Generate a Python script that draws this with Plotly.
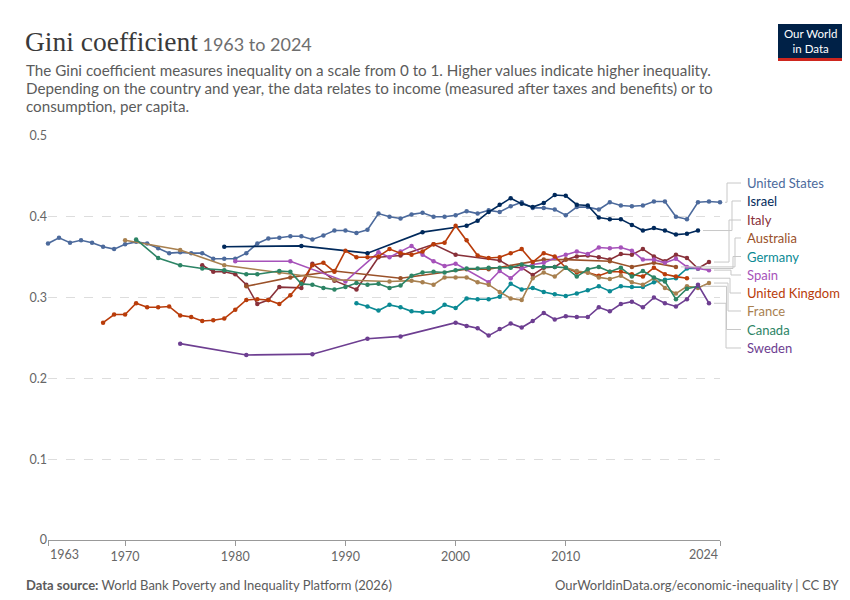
import plotly.graph_objects as go

# Gini values (World Bank PIP via OWID)
us_years = list(range(1963, 2025))
us_gini = [0.367, 0.374, 0.368, 0.371, 0.368, 0.363, 0.360, 0.366, 0.369, 0.367,
           0.361, 0.355, 0.356, 0.355, 0.355, 0.348, 0.348, 0.348, 0.355, 0.367,
           0.373, 0.374, 0.376, 0.376, 0.372, 0.377, 0.383, 0.383, 0.380, 0.384,
           0.404, 0.400, 0.398, 0.403, 0.405, 0.400, 0.400, 0.402, 0.407, 0.404,
           0.408, 0.406, 0.413, 0.418, 0.411, 0.411, 0.409, 0.402, 0.412, 0.412,
           0.409, 0.418, 0.414, 0.413, 0.414, 0.419, 0.419, 0.400, 0.397, 0.418,
           0.419, 0.418]

israel_years = [1979, 1986, 1992, 1997, 2001, 2002, 2003, 2004, 2005, 2006, 2007,
                2008, 2009, 2010, 2011, 2012, 2013, 2014, 2015, 2016, 2017, 2018,
                2019, 2020, 2021, 2022]
israel_gini = [0.363, 0.364, 0.355, 0.381, 0.389, 0.395, 0.406, 0.415, 0.423, 0.416,
               0.412, 0.417, 0.427, 0.426, 0.415, 0.414, 0.399, 0.397, 0.397, 0.390,
               0.383, 0.386, 0.383, 0.378, 0.379, 0.383]

italy_years = [1977, 1978, 1979, 1980, 1981, 1982, 1983, 1984, 1986, 1987, 1989,
               1991, 1993, 1995, 1998, 2000, 2004, 2005, 2006, 2007, 2008, 2009,
               2010, 2011, 2012, 2013, 2014, 2015, 2016, 2017, 2018, 2019, 2020,
               2021, 2022, 2023]
italy_gini = [0.340, 0.332, 0.332, 0.329, 0.316, 0.292, 0.297, 0.313, 0.312, 0.342,
              0.321, 0.310, 0.350, 0.352, 0.366, 0.353, 0.346, 0.338, 0.337, 0.328,
              0.337, 0.338, 0.347, 0.351, 0.352, 0.350, 0.347, 0.354, 0.353, 0.360,
              0.351, 0.345, 0.353, 0.349, 0.336, 0.344]

australia_years = [1981, 1985, 1989, 1995, 2001, 2003, 2008, 2010, 2014, 2016, 2018, 2020]
australia_gini = [0.314, 0.325, 0.333, 0.324, 0.335, 0.335, 0.347, 0.347, 0.345,
                  0.338, 0.343, 0.338]

germany_years = list(range(1991, 2023))
germany_gini = [0.293, 0.289, 0.284, 0.291, 0.288, 0.283, 0.282, 0.282, 0.291, 0.287,
                0.299, 0.298, 0.298, 0.301, 0.317, 0.310, 0.312, 0.307, 0.304, 0.302,
                0.305, 0.309, 0.314, 0.308, 0.314, 0.313, 0.313, 0.319, 0.322, 0.324,
                0.336, 0.336]

spain_years = [1980, 1985, 1990, 1993, 1994, 1995, 1996, 1997, 1998, 1999, 2000,
               2003, 2004, 2005, 2006, 2007, 2008, 2009, 2010, 2011, 2012, 2013,
               2014, 2015, 2016, 2017, 2018, 2019, 2020, 2021, 2022, 2023]
spain_gini = [0.345, 0.345, 0.320, 0.356, 0.350, 0.357, 0.364, 0.353, 0.345, 0.339,
              0.342, 0.319, 0.333, 0.324, 0.336, 0.341, 0.343, 0.349, 0.353, 0.357,
              0.354, 0.362, 0.361, 0.362, 0.358, 0.347, 0.347, 0.343, 0.348, 0.338,
              0.336, 0.334]

uk_years = list(range(1968, 2022))
uk_gini = [0.269, 0.279, 0.279, 0.293, 0.288, 0.288, 0.289, 0.278, 0.276, 0.271,
           0.272, 0.274, 0.285, 0.297, 0.298, 0.297, 0.292, 0.303, 0.319, 0.340,
           0.343, 0.332, 0.358, 0.350, 0.350, 0.351, 0.360, 0.355, 0.353, 0.357,
           0.366, 0.368, 0.389, 0.371, 0.352, 0.349, 0.350, 0.355, 0.360, 0.344,
           0.355, 0.351, 0.337, 0.331, 0.331, 0.327, 0.332, 0.332, 0.329, 0.326,
           0.337, 0.329, 0.326, 0.324]

france_years = [1970, 1975, 1979, 1984, 1989, 1994, 1996, 1997, 1998, 1999, 2000,
                2001, 2002, 2003, 2004, 2005, 2006, 2007, 2008, 2009, 2010, 2011,
                2012, 2013, 2014, 2015, 2016, 2017, 2018, 2019, 2020, 2021, 2022, 2023]
france_gini = [0.371, 0.359, 0.340, 0.331, 0.322, 0.320, 0.321, 0.319, 0.316, 0.325,
               0.325, 0.325, 0.319, 0.316, 0.307, 0.299, 0.297, 0.324, 0.331, 0.326,
               0.337, 0.333, 0.331, 0.325, 0.323, 0.327, 0.319, 0.316, 0.324, 0.312,
               0.305, 0.314, 0.312, 0.318]

canada_years = [1971, 1973, 1975, 1977, 1979, 1981, 1982, 1984, 1985, 1986, 1987,
                1988, 1989, 1990, 1991, 1992, 1993, 1994, 1995, 1996, 1997, 1998,
                1999, 2000, 2001, 2002, 2003, 2004, 2005, 2006, 2007, 2008, 2009,
                2010, 2011, 2012, 2013, 2014, 2015, 2016, 2017, 2018, 2019, 2020,
                2021, 2022]
canada_gini = [0.372, 0.349, 0.340, 0.336, 0.334, 0.329, 0.329, 0.333, 0.332, 0.317,
               0.316, 0.312, 0.310, 0.313, 0.318, 0.316, 0.317, 0.312, 0.315, 0.327,
               0.331, 0.332, 0.331, 0.334, 0.336, 0.336, 0.337, 0.337, 0.337, 0.341,
               0.338, 0.338, 0.338, 0.337, 0.326, 0.335, 0.338, 0.332, 0.337, 0.326,
               0.333, 0.325, 0.320, 0.298, 0.311, 0.314]

sweden_years = [1975, 1981, 1987, 1992, 1995, 2000, 2001, 2002, 2003, 2004, 2005,
                2006, 2007, 2008, 2009, 2010, 2011, 2012, 2013, 2014, 2015, 2016,
                2017, 2018, 2019, 2020, 2021, 2022, 2023]
sweden_gini = [0.243, 0.229, 0.230, 0.249, 0.252, 0.269, 0.265, 0.262, 0.253, 0.261,
               0.268, 0.263, 0.271, 0.281, 0.273, 0.277, 0.276, 0.276, 0.288, 0.283,
               0.292, 0.295, 0.288, 0.300, 0.293, 0.289, 0.298, 0.316, 0.293]

# legend order top to bottom, with label y position (canvas px)
series = [
    ("United States", us_years, us_gini, "#4C6A9C", 175),
    ("Israel", israel_years, israel_gini, "#00295B", 193),
    ("Italy", italy_years, italy_gini, "#883039", 212),
    ("Australia", australia_years, australia_gini, "#9A5129", 230),
    ("Germany", germany_years, germany_gini, "#0B8A94", 248.5),
    ("Spain", spain_years, spain_gini, "#A652BA", 267),
    ("United Kingdom", uk_years, uk_gini, "#B93C0A", 285),
    ("France", france_years, france_gini, "#A8804F", 303),
    ("Canada", canada_years, canada_gini, "#2C8465", 321.5),
    ("Sweden", sweden_years, sweden_gini, "#6D3E91", 340),
]

x_ticks = [1963, 1970, 1980, 1990, 2000, 2010, 2024]

W, H = 850, 600
L, R, T, B = 40, 138, 128, 68
PW, PH = W - L - R, H - T - B


def px(x):
    return (x - L) / PW


def py(y):
    return (H - B - y) / PH


fig = go.Figure()
for name, yrs, vals, col, _ in series:
    fig.add_trace(go.Scatter(x=yrs, y=vals, mode="lines+markers", name=name,
                             line=dict(color=col, width=1.6),
                             marker=dict(color=col, size=4.5),
                             cliponaxis=False, showlegend=False))

shapes = []
annotations = []
vx = [719, 724, 721, 727, 725, 723, 722, 720, 718.5, 718]
for i, (name, yrs, vals, col, ly) in enumerate(series):
    end_x = 40 + (yrs[-1] - 1963) * PW / (2024 - 1963) + 5
    end_y = vals[-1] / 0.5  # paper
    xv = px(max(vx[i], end_x + 1))
    path = "M %f,%f L %f,%f L %f,%f L %f,%f" % (px(end_x), end_y, xv, end_y,
                                                xv, py(ly), px(733), py(ly))
    shapes.append(dict(type="path", path=path, xref="paper", yref="paper",
                       line=dict(color="#c8c8c8", width=1)))
    annotations.append(dict(text=name, x=px(737), y=py(ly), xref="paper", yref="paper",
                            xanchor="left", yanchor="middle", showarrow=False,
                            font=dict(family="Lato", size=13, color=col)))

# first and last year labels sit inside the axis ends
annotations.append(dict(text=str(x_ticks[0]), x=x_ticks[0], y=py(546), xref="x", yref="paper",
                        xanchor="left", yanchor="middle", showarrow=False,
                        font=dict(family="Lato", size=12.5, color="#666")))
annotations.append(dict(text=str(x_ticks[-1]), x=x_ticks[-1], y=py(546), xref="x", yref="paper",
                        xanchor="right", yanchor="middle", showarrow=False,
                        font=dict(family="Lato", size=12.5, color="#666")))

# header
annotations.append(dict(
    text="<span style='font-family:Liberation Serif;font-size:27.5px;color:#3a3a3a'>Gini coefficient</span>"
         " <span style='font-family:Lato;font-size:18px;color:#6e6e6e'>1963 to 2024</span>",
    x=px(15), y=py(33), xref="paper", yref="paper", xanchor="left", yanchor="middle",
    showarrow=False, font=dict(family="Lato", size=18, color="#6e6e6e")))
sub = ["The Gini coefficient measures inequality on a scale from 0 to 1. Higher values indicate higher inequality.",
       "Depending on the country and year, the data relates to income (measured after taxes and benefits) or to",
       "consumption, per capita."]
for k, line in enumerate(sub):
    annotations.append(dict(text=line, x=px(16), y=py(62 + k * 18), xref="paper", yref="paper",
                            xanchor="left", yanchor="middle", showarrow=False,
                            font=dict(family="Lato", size=15.2, color="#5b5b5b")))

# logo
shapes.append(dict(type="rect", xref="paper", yref="paper", x0=px(770), x1=px(834),
                   y0=py(50), y1=py(16), fillcolor="#002147", line=dict(width=0)))
shapes.append(dict(type="rect", xref="paper", yref="paper", x0=px(770), x1=px(834),
                   y0=py(53), y1=py(50), fillcolor="#ce261e", line=dict(width=0)))
annotations.append(dict(text="Our World<br>in Data", x=px(802), y=py(33), xref="paper",
                        yref="paper", xanchor="center", yanchor="middle", showarrow=False,
                        font=dict(family="Lato", size=11.5, color="white")))

# footer
annotations.append(dict(text="<b>Data source:</b> World Bank Poverty and Inequality Platform (2026)",
                        x=px(16), y=py(577), xref="paper", yref="paper", xanchor="left",
                        yanchor="middle", showarrow=False,
                        font=dict(family="Lato", size=13, color="#5b5b5b")))
annotations.append(dict(text="OurWorldinData.org/economic-inequality | CC BY",
                        x=px(834), y=py(577), xref="paper", yref="paper", xanchor="right",
                        yanchor="middle", showarrow=False,
                        font=dict(family="Lato", size=13, color="#5b5b5b")))

fig.update_layout(
    width=W, height=H, margin=dict(l=L, r=R, t=T, b=B),
    paper_bgcolor="white", plot_bgcolor="white",
    font=dict(family="Lato", color="#666"),
    shapes=shapes, annotations=annotations,
    xaxis=dict(range=[1963, 2024], tickvals=x_ticks,
               ticktext=[""] + [str(v) for v in x_ticks[1:-1]] + [""],
               showgrid=False, zeroline=False,
               showline=True, linecolor="#999", linewidth=1, ticks="outside",
               ticklen=5, tickcolor="#999", tickfont=dict(size=12.5, color="#666")),
    yaxis=dict(range=[0, 0.5], tickvals=[0, 0.1, 0.2, 0.3, 0.4, 0.5],
               ticktext=["0", "0.1", "0.2", "0.3", "0.4", "0.5"],
               showgrid=True, gridcolor="#dddddd", griddash="dash", zeroline=False,
               showline=False, ticks="", tickfont=dict(size=12.5, color="#666")),
)

fig.write_html("out.html")
